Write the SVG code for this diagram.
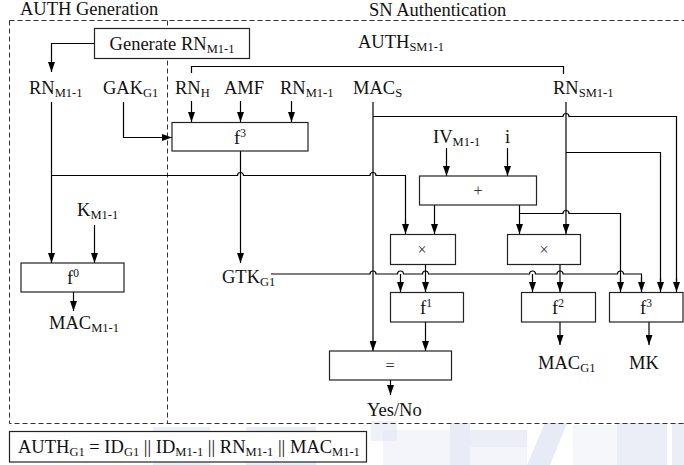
<svg xmlns="http://www.w3.org/2000/svg" width="684" height="465" viewBox="0 0 684 465">
  <style>
    text { font-family: "Liberation Serif", "Times New Roman", serif; font-size: 18.5px; fill: #111; }
    .sub { font-size: 12.5px; }
    .sup { font-size: 11.5px; }
    .op { font-size: 16px; fill: #333; }
    .box { fill: #fff; stroke: #222; stroke-width: 1.2; }
    .wire { fill: none; stroke: #000; stroke-width: 1.2; }
    .arrow { fill: none; stroke: #000; stroke-width: 1.2; marker-end: url(#head); }
    .dash { fill: none; stroke: #333; stroke-width: 1; stroke-dasharray: 5 3; }
    .tint { fill: #d3d9ef; }
  </style>
  <defs>
    <marker id="head" viewBox="0 0 10 7" markerWidth="10" markerHeight="7" refX="10" refY="3.5" orient="auto" markerUnits="userSpaceOnUse">
      <path d="M0,0 L10,3.5 L0,7 z" fill="#000"/>
    </marker>
  </defs>

  <rect width="684" height="465" fill="#fff"/>

  <!-- faint blocky tint along the bottom strip -->
  <g id="tint" opacity="0.7">
    <rect class="tint" x="153" y="427" width="57" height="38" opacity="0.55"/>
    <rect class="tint" x="246" y="427" width="70" height="38" opacity="0.6"/>
    <rect class="tint" x="371" y="421" width="26" height="20" opacity="0.5"/>
    <rect class="tint" x="383" y="430" width="67" height="35" opacity="0.35"/>
    <rect class="tint" x="450" y="423" width="20" height="42" opacity="0.7"/>
    <rect class="tint" x="470" y="430" width="57" height="17" opacity="0.6"/>
    <rect class="tint" x="470" y="447" width="57" height="18" opacity="0.35"/>
    <polygon class="tint" points="527,465 545,423 567,423 550,465" opacity="0.75"/>
    <rect class="tint" x="573" y="425" width="44" height="40" opacity="0.3"/>
    <rect class="tint" x="617" y="423" width="50" height="42" opacity="0.6"/>
    <rect class="tint" x="672" y="423" width="12" height="42" opacity="0.6"/>
  </g>

  <!-- region frames -->
  <g id="frames">
    <path class="dash" d="M9.5,20.5 H690 M9.5,20.5 V423.5 H690"/>
    <path class="dash" d="M167.5,20.5 V423.5"/>
    <text x="20" y="15">AUTH Generation</text>
    <text x="369" y="16">SN Authentication</text>
  </g>

  <!-- connectors -->
  <g id="connectors">
    <path class="arrow" d="M94,43.5 H51.5 V72"/>
    <path class="wire" d="M191.5,73 V66.5 H563.5 V74"/>
    <path class="arrow" d="M191.5,101 V122"/>
    <path class="arrow" d="M240.5,101 V122"/>
    <path class="arrow" d="M291.5,101 V122"/>
    <path class="arrow" d="M123.5,102 V137.5 H172"/>
    <path class="arrow" d="M51.5,102 V263"/>
    <path class="arrow" d="M240.5,151 V263"/>
    <path class="wire" d="M51.5,175.5 H237.5 a3,3 0 0 1 6,0 H370 a3,3 0 0 1 6,0 H405.5 V224"/>
    <path class="arrow" d="M405.5,220 V234"/>
    <path class="arrow" d="M94.5,225 V263"/>
    <path class="arrow" d="M73.5,292 V311"/>
    <path class="arrow" d="M373,102 V351"/>
    <path class="wire" d="M373,116.5 H563 a3,3 0 0 1 6,0 H676.5 V282"/>
    <path class="arrow" d="M676.5,278 V292"/>
    <path class="arrow" d="M566,102 V234"/>
    <path class="wire" d="M566,152.5 H660.5 V282"/>
    <path class="arrow" d="M660.5,278 V292"/>
    <path class="arrow" d="M446.5,148 V176"/>
    <path class="arrow" d="M507.5,148 V176"/>
    <path class="arrow" d="M434.5,205 V234"/>
    <path class="arrow" d="M519.5,205 V234"/>
    <path class="wire" d="M519.5,213.5 H563 a3,3 0 0 1 6,0 H620.5 V282"/>
    <path class="arrow" d="M620.5,278 V292"/>
    <path class="wire" d="M271,274 H370 a3,3 0 0 1 6,0 H397.5 a3,3 0 0 1 6,0 H422.5 a3,3 0 0 1 6,0 H529.5 a3,3 0 0 1 6,0 H557 a3,3 0 0 1 6,0 H617.5 a3,3 0 0 1 6,0 H641.5 V282"/>
    <path class="arrow" d="M641.5,278 V292"/>
    <path class="arrow" d="M400.5,274 V292"/>
    <path class="arrow" d="M532.5,274 V292"/>
    <path class="arrow" d="M425.5,264 V292"/>
    <path class="arrow" d="M560,264 V292"/>
    <path class="arrow" d="M425.5,322 V351"/>
    <path class="arrow" d="M560,322 V345"/>
    <path class="arrow" d="M649,322 V345"/>
    <path class="arrow" d="M390.5,380 V395"/>
  </g>

  <!-- nodes -->
  <g id="gen-rn">
    <rect class="box" x="94.5" y="28.5" width="155" height="30"/>
    <text x="172" y="50" text-anchor="middle">Generate RN<tspan class="sub" dy="3">M1-1</tspan></text>
  </g>
  <g id="lbl-rn-left"><text x="29" y="94">RN<tspan class="sub" dy="3">M1-1</tspan></text></g>
  <g id="lbl-gak"><text x="103" y="94">GAK<tspan class="sub" dy="3">G1</tspan></text></g>
  <g id="lbl-rnh"><text x="175" y="94">RN<tspan class="sub" dy="3">H</tspan></text></g>
  <g id="lbl-amf"><text x="224" y="94">AMF</text></g>
  <g id="lbl-rn-mid"><text x="280" y="94">RN<tspan class="sub" dy="3">M1-1</tspan></text></g>
  <g id="lbl-macs"><text x="353" y="94">MAC<tspan class="sub" dy="3">S</tspan></text></g>
  <g id="lbl-rnsm"><text x="553" y="94">RN<tspan class="sub" dy="3">SM1-1</tspan></text></g>
  <g id="lbl-authsm"><text x="358" y="48">AUTH<tspan class="sub" dy="3">SM1-1</tspan></text></g>
  <g id="lbl-iv"><text x="433" y="143">IV<tspan class="sub" dy="3">M1-1</tspan></text></g>
  <g id="lbl-i"><text x="505" y="143">i</text></g>
  <g id="lbl-k"><text x="77" y="216">K<tspan class="sub" dy="3">M1-1</tspan></text></g>
  <g id="lbl-gtk"><text x="222" y="282.5">GTK<tspan class="sub" dy="3">G1</tspan></text></g>

  <g id="f3-top">
    <rect class="box" x="172" y="122.5" width="136" height="28.5"/>
    <text x="240" y="143.5" text-anchor="middle">f<tspan class="sup" dy="-7">3</tspan></text>
  </g>
  <g id="f0">
    <rect class="box" x="21" y="263" width="103" height="29"/>
    <text x="73" y="284" text-anchor="middle">f<tspan class="sup" dy="-7">0</tspan></text>
  </g>
  <g id="lbl-macm"><text x="49" y="329">MAC<tspan class="sub" dy="3">M1-1</tspan></text></g>

  <g id="plus">
    <rect class="box" x="419.5" y="176" width="117" height="29"/>
    <text class="op" x="478" y="196" text-anchor="middle">+</text>
  </g>
  <g id="mul1">
    <rect class="box" x="390.5" y="234.5" width="65" height="30"/>
    <text class="op" x="422" y="254.5" text-anchor="middle">×</text>
  </g>
  <g id="mul2">
    <rect class="box" x="507.5" y="234.5" width="73" height="30"/>
    <text class="op" x="544" y="254.5" text-anchor="middle">×</text>
  </g>
  <g id="f1">
    <rect class="box" x="390.5" y="292.5" width="73" height="29.5"/>
    <text x="426" y="314" text-anchor="middle">f<tspan class="sup" dy="-7">1</tspan></text>
  </g>
  <g id="f2">
    <rect class="box" x="521.5" y="292.5" width="74" height="29.5"/>
    <text x="558" y="314" text-anchor="middle">f<tspan class="sup" dy="-7">2</tspan></text>
  </g>
  <g id="f3-right">
    <rect class="box" x="609.5" y="292.5" width="73.5" height="29.5"/>
    <text x="646" y="314" text-anchor="middle">f<tspan class="sup" dy="-7">3</tspan></text>
  </g>
  <g id="eq">
    <rect class="box" x="329.5" y="351" width="122" height="29"/>
    <text class="op" x="390" y="370.5" text-anchor="middle">=</text>
  </g>
  <g id="lbl-yesno"><text x="367" y="416">Yes/No</text></g>
  <g id="lbl-macg"><text x="538" y="369">MAC<tspan class="sub" dy="3">G1</tspan></text></g>
  <g id="lbl-mk"><text x="629" y="369">MK</text></g>

  <g id="auth-formula">
    <rect class="box" x="9.5" y="431.5" width="357" height="30.5"/>
    <text x="18" y="452.5">AUTH<tspan class="sub" dy="3">G1</tspan><tspan dy="-3"> = ID</tspan><tspan class="sub" dy="3">G1</tspan><tspan dy="-3"> || ID</tspan><tspan class="sub" dy="3">M1-1</tspan><tspan dy="-3"> || RN</tspan><tspan class="sub" dy="3">M1-1</tspan><tspan dy="-3"> || MAC</tspan><tspan class="sub" dy="3">M1-1</tspan></text>
  </g>
</svg>
